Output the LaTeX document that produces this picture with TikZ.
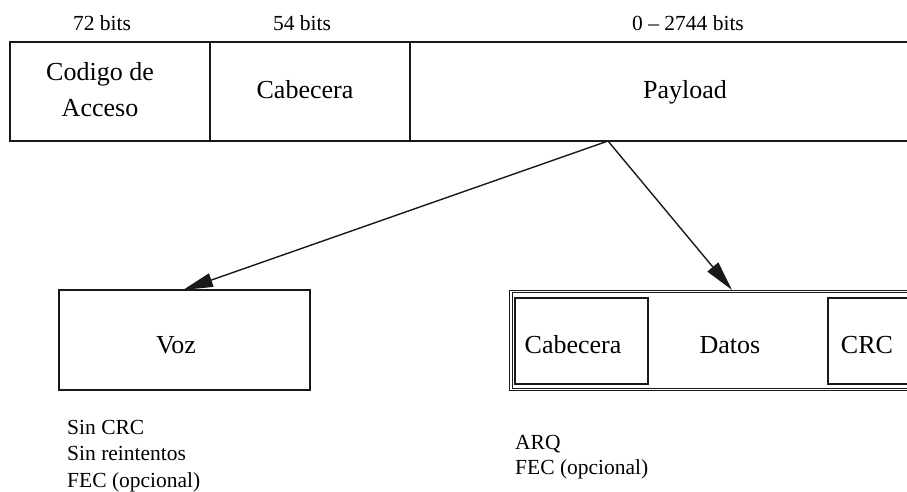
\documentclass[tikz,border=0pt]{standalone}
\usepackage{fontspec}
\setmainfont{Liberation Serif}
\usetikzlibrary{arrows.meta}
\begin{document}
\begin{tikzpicture}[x=1pt,y=-1pt,
  cell/.style={draw=black!90, line width=1.4pt, rectangle, inner sep=0pt},
  dcell/.style={draw=black!90, line width=1pt, double, double distance=1.5pt, rectangle, inner sep=0pt},
  big/.style={font=\fontsize{26}{36}\selectfont, inner sep=0pt, anchor=base},
  small/.style={font=\fontsize{21.5}{26.5}\selectfont, inner sep=0pt},
  link/.style={draw=black!90, line width=1.4pt, -{Triangle[length=30pt,width=14pt]}}]
\clip (0,0) rectangle (907,491);

% frame fields
\node[cell, minimum width=200pt, minimum height=99pt] (acc) at (110,91.5) {};
\node[cell, minimum width=200pt, minimum height=99pt] (cab) at (310,91.5) {};
\node[cell, minimum width=590pt, minimum height=99pt] (pay) at (705,91.5) {};

% field sizes
\node[small, anchor=base] (bacc) at (102,30) {72 bits};
\node[small, anchor=base] (bcab) at (302,30) {54 bits};
\node[small, anchor=base] (bpay) at (688,30) {0 -- 2744 bits};

% field names (the base of a multi-line node is its last line)
\node[big, align=center] (tacc) at (100,116.5) {Codigo de\\Acceso};
\node[big] (tcab) at (305,98) {Cabecera};
\node[big] (tpay) at (685,98) {Payload};

% payload kinds
\node[cell, minimum width=251pt, minimum height=100pt] (voz) at (184.5,340) {};
\node[big] (tvoz) at (176,353) {Voz};

\node[dcell, minimum width=489pt, minimum height=98pt] (dat) at (755.5,340.5) {};
\node[cell, minimum width=133pt, minimum height=86pt] (dcab) at (581.5,341) {};
\node[cell, minimum width=172pt, minimum height=86pt] (dcrc) at (914,341) {};
\node[big] (tdcab) at (573,353) {Cabecera};
\node[big] (tdat) at (730,353) {Datos};
\node[big] (tdcrc) at (867,353) {CRC};

% connectors
\coordinate (src) at (608,141);
\coordinate (vin) at (183,290);
\coordinate (din) at (732,290);
\draw[link] (src) -- (vin);
\draw[link] (src) -- (din);

% notes
\node[small, align=left, anchor=base west] (nvoz) at (67,487)
  {Sin CRC\\Sin reintentos\\FEC (opcional)};
\node[small, align=left, anchor=base west, font=\fontsize{21.5}{24.5}\selectfont] (ndat) at (515,474)
  {ARQ\\FEC (opcional)};
\end{tikzpicture}
\end{document}
